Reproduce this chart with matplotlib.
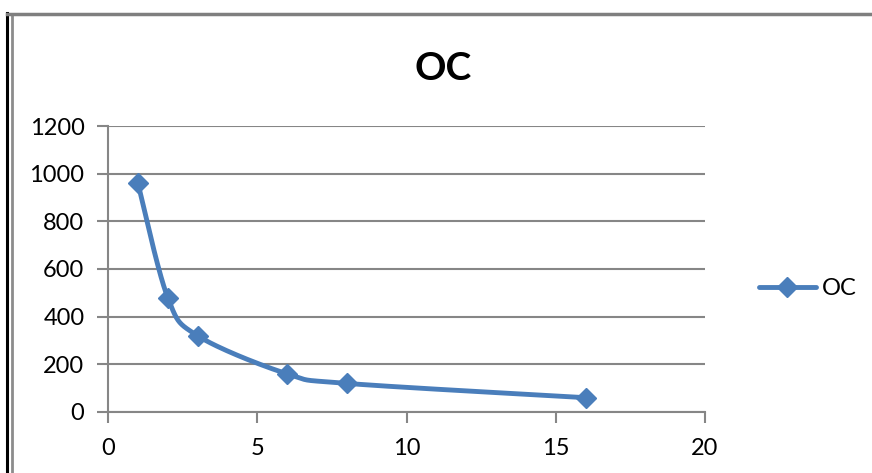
import numpy as np
import matplotlib.pyplot as plt
from matplotlib.lines import Line2D

# dados
x = [1, 2, 3, 6, 8, 16]
oc = [960, 480, 320, 160, 120, 60]
xticks = [0, 5, 10, 15, 20]
yticks = [0, 200, 400, 600, 800, 1000, 1200]

cor = '#4A7EBB'
cinza = '#868686'


def suavizar(px, py, n=40):
    # curva tipo Catmull-Rom (como a linha suavizada do Excel)
    px = np.asarray(px, float)
    py = np.asarray(py, float)
    P = np.column_stack([px, py])
    P = np.vstack([P[0], P, P[-1]])
    out = []
    for i in range(1, len(P) - 2):
        p0, p1, p2, p3 = P[i - 1], P[i], P[i + 1], P[i + 2]
        b1 = p1 + (p2 - p0) / 6.0
        b2 = p2 - (p3 - p1) / 6.0
        t = np.linspace(0, 1, n)[:, None]
        seg = ((1 - t) ** 3) * p1 + 3 * ((1 - t) ** 2) * t * b1 + 3 * (1 - t) * t ** 2 * b2 + t ** 3 * p2
        out.append(seg)
    out = np.vstack(out)
    return out[:, 0], out[:, 1]


plt.rcParams['font.family'] = ['Lato', 'DejaVu Sans']

fig = plt.figure(figsize=(8.72, 4.73), dpi=100)
ax = fig.add_axes([0.1239, 0.129, 0.6846, 0.6046])

# moldura do grafico
fig.add_artist(Line2D([0.0086, 0.0086], [0, 0.973], transform=fig.transFigure, color='black', lw=2.2))
fig.add_artist(Line2D([0.0132, 0.0132], [0, 0.971], transform=fig.transFigure, color='#8c8c8c', lw=2))
fig.add_artist(Line2D([0.0086, 1.0], [0.971, 0.971], transform=fig.transFigure, color='#7f7f7f', lw=2.5))

sx, sy = suavizar(x, oc)
ax.plot(sx, sy, color=cor, lw=3.5, solid_capstyle='round', zorder=3)
ax.plot(x, oc, linestyle='none', marker='D', ms=10, color=cor, zorder=4)

ax.set_xlim(0, 20)
ax.set_ylim(0, 1200)
ax.set_xticks(xticks)
ax.set_yticks(yticks)
ax.yaxis.grid(True, color=cinza, lw=1.5)
ax.set_axisbelow(True)
for s in ['top', 'right']:
    ax.spines[s].set_visible(False)
for s in ['left', 'bottom']:
    ax.spines[s].set_color(cinza)
    ax.spines[s].set_linewidth(1.5)
ax.tick_params(axis='both', colors=cinza, width=1.5, length=8, labelcolor='black', labelsize=17)
ax.tick_params(axis='y', pad=9)
ax.tick_params(axis='x', pad=11)

fig.text(0.508, 0.856, 'OC', ha='center', va='center', fontsize=28, fontweight='bold')

h = Line2D([], [], color=cor, lw=3.5, marker='D', ms=10, solid_capstyle='round')
fig.legend([h], ['OC'], loc='center left', bbox_to_anchor=(0.846, 0.39),
           frameon=False, fontsize=17, handlelength=2.4, handletextpad=0.25)

plt.savefig('out.png', dpi=100)
